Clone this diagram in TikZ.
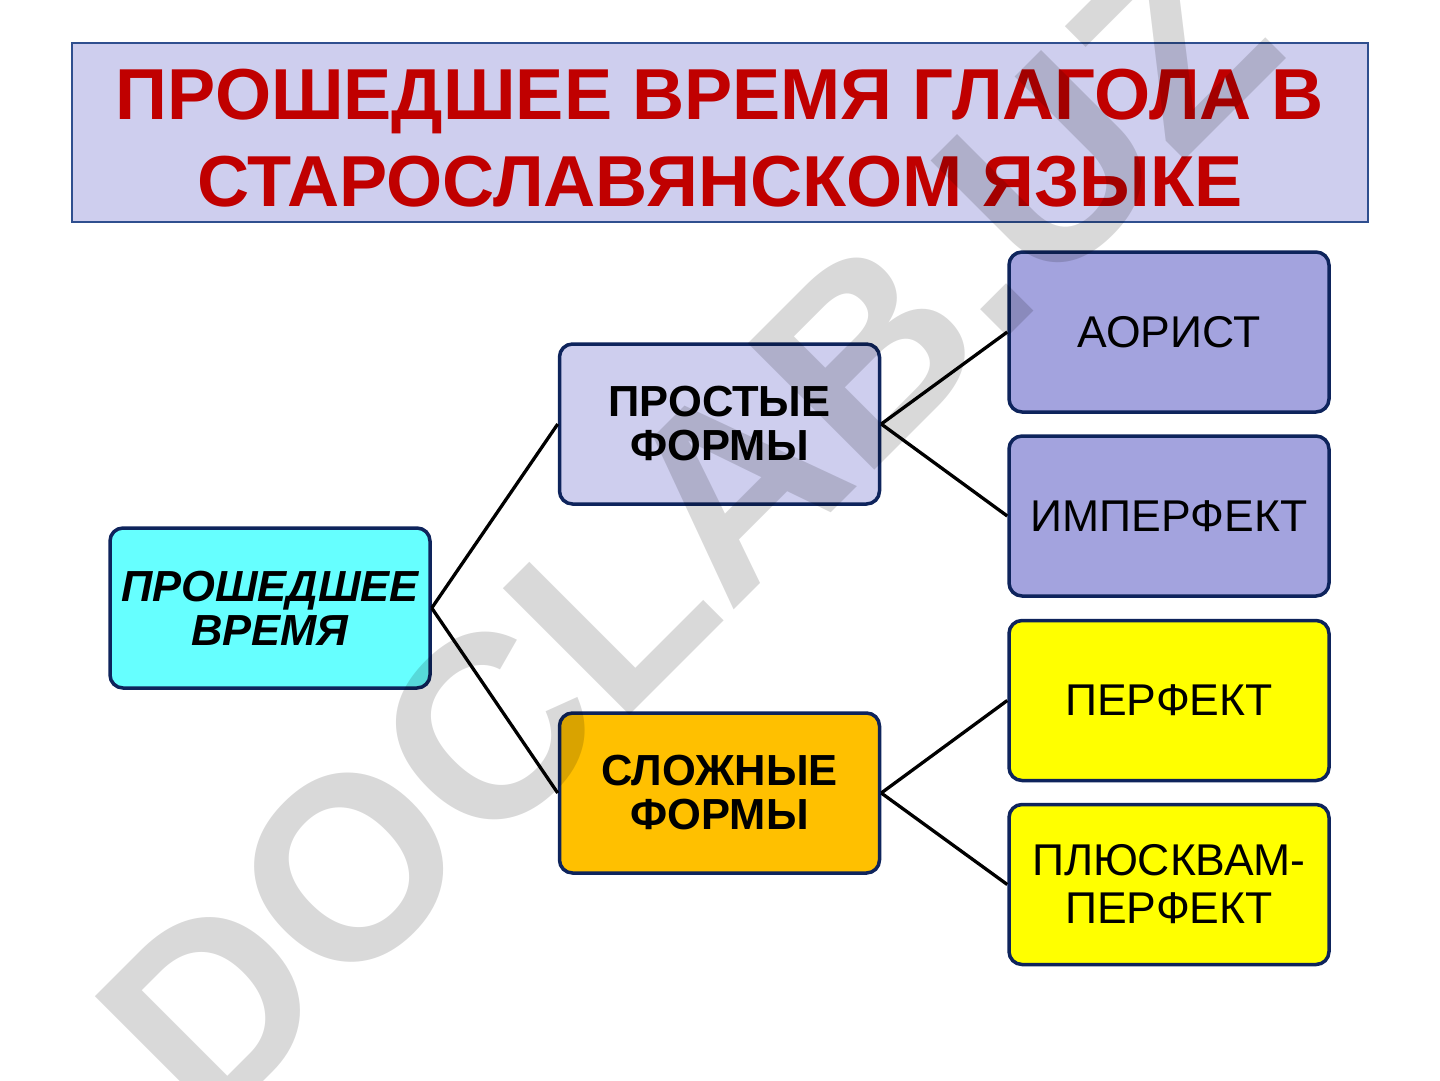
\documentclass[tikz,border=0pt]{standalone}
\usepackage{fontspec}
\setmainfont{Liberation Sans}
\definecolor{lav}{RGB}{206,206,238}
\definecolor{lavdark}{RGB}{163,163,222}
\definecolor{cyanbox}{RGB}{102,255,255}
\definecolor{orangebox}{RGB}{255,192,0}
\definecolor{yellowbox}{RGB}{255,255,0}
\definecolor{navy}{RGB}{14,36,92}
\definecolor{titleborder}{RGB}{47,79,143}
\definecolor{titlered}{RGB}{192,0,0}
\tikzset{
  box/.style={draw=navy, line width=3.5pt, rounded corners=13pt,
    minimum width=320pt, minimum height=160pt, inner sep=0pt,
    align=center, text=black},
  boldtxt/.style={font=\fontsize{43.5}{44}\selectfont\bfseries},
  plaintxt/.style={font=\fontsize{44.5}{48}\selectfont},
  link/.style={draw=black, line width=3.3pt},
}
\begin{document}
\begin{tikzpicture}[x=1pt,y=-1pt]
\useasboundingbox (0,0) rectangle (1440,1080);
\fill[white] (0,0) rectangle (1440,1080);
% title
\node[draw=titleborder, line width=1.5pt, fill=lav, minimum width=1296pt,
  minimum height=179pt, inner sep=0pt] (title) at (720,132.5) {};
\node[inner sep=0pt, align=center, text=titlered,
  font=\fontsize{72.2}{87}\selectfont\bfseries] (titletext) at (720,138)
  {ПРОШЕДШЕЕ ВРЕМЯ ГЛАГОЛА В\\СТАРОСЛАВЯНСКОМ ЯЗЫКЕ};
% boxes
\node[box, fill=cyanbox, font=\fontsize{43.5}{44}\selectfont\bfseries\itshape] (past) at (270,608) {ПРОШЕДШЕЕ\\ВРЕМЯ};
\node[box, boldtxt, fill=lav] (simple) at (719.5,424) {ПРОСТЫЕ\\ФОРМЫ};
\node[box, boldtxt, fill=orangebox] (complex) at (719.5,793) {СЛОЖНЫЕ\\ФОРМЫ};
\node[box, plaintxt, fill=lavdark] (aorist) at (1169,332) {АОРИСТ};
\node[box, plaintxt, fill=lavdark] (imperf) at (1169,516) {ИМПЕРФЕКТ};
\node[box, plaintxt, fill=yellowbox] (perf) at (1169,700.5) {ПЕРФЕКТ};
\node[box, plaintxt, fill=yellowbox] (plusq) at (1169,884.5) {ПЛЮСКВАМ-\\ПЕРФЕКТ};
% connectors
\draw[link] (past.east) -- (simple.west);
\draw[link] (past.east) -- (complex.west);
\draw[link] (simple.east) -- (aorist.west);
\draw[link] (simple.east) -- (imperf.west);
\draw[link] (complex.east) -- (perf.west);
\draw[link] (complex.east) -- (plusq.west);
% watermark
\node[rotate=45, inner sep=0pt, text=black, text opacity=0.15,
  font=\fontsize{260}{260}\selectfont\bfseries] (wm) at (687,531) {DOCLAB.UZ};
\end{tikzpicture}
\end{document}
